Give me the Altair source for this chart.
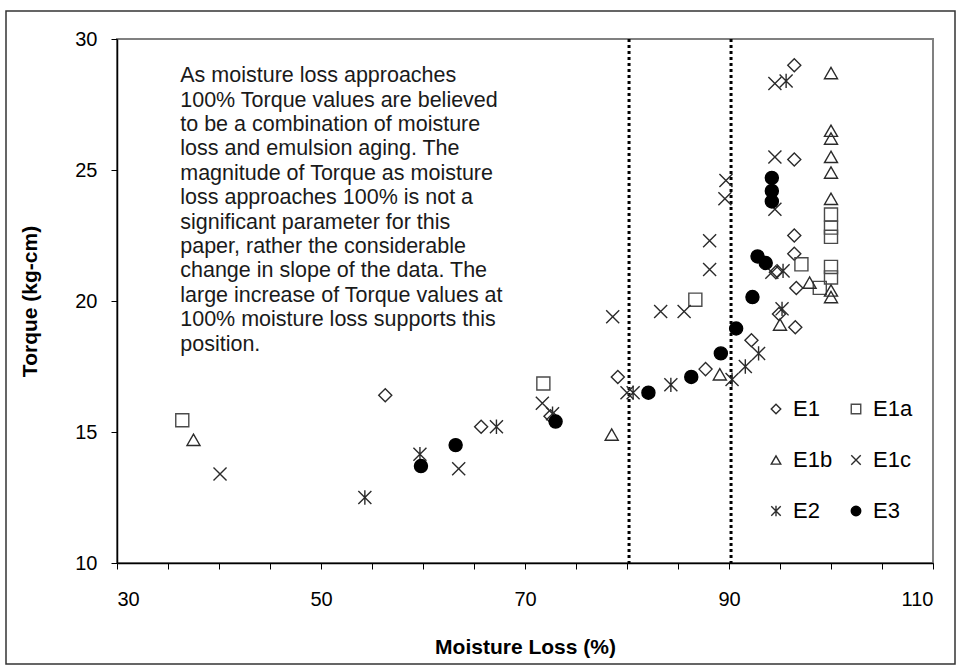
import altair as alt
import pandas as pd

# Torque vs. moisture loss for each emulsion series
E1_x = [56.3, 65.7, 72.5, 79.1, 87.7, 92.2, 94.6, 94.9, 96.4, 96.4, 96.4, 96.4, 96.6, 96.5]
E1_y = [16.4, 15.2, 15.6, 17.1, 17.4, 18.5, 21.1, 19.5, 29.0, 25.4, 22.5, 21.8, 20.5, 19.0]

E1a_x = [36.4, 71.8, 86.7, 97.1, 98.9, 100, 100, 100, 100, 100]
E1a_y = [15.45, 16.85, 20.05, 21.4, 20.5, 23.3, 22.8, 22.45, 21.3, 20.9]

E1b_x = [37.5, 78.5, 89.1, 95.0, 97.9, 100, 100, 100, 100, 100, 100, 100, 100]
E1b_y = [14.7, 14.9, 17.2, 19.1, 20.7, 28.7, 26.5, 26.2, 25.5, 24.9, 23.9, 20.4, 20.15]

E1c_x = [40.1, 63.5, 71.7, 78.6, 80.0, 83.3, 85.6, 88.1, 88.1, 89.7, 89.6, 94.5, 94.5, 94.5, 94.2]
E1c_y = [13.4, 13.6, 16.1, 19.4, 16.5, 19.6, 19.6, 22.3, 21.2, 24.6, 23.9, 28.3, 25.5, 23.5, 21.1]

E2_x = [54.3, 59.7, 67.2, 72.7, 80.6, 84.3, 90.3, 91.6, 92.9, 95.2, 95.3, 95.6]
E2_y = [12.5, 14.15, 15.2, 15.7, 16.5, 16.8, 17.0, 17.5, 18.0, 19.7, 21.15, 28.4]

E3_x = [59.8, 63.2, 73.0, 82.1, 86.3, 89.2, 90.7, 92.3, 92.8, 93.6, 94.2, 94.2, 94.2]
E3_y = [13.7, 14.5, 15.4, 16.5, 17.1, 18.0, 18.95, 20.15, 21.7, 21.45, 24.7, 24.2, 23.8]

series_names = ["E1", "E1a", "E1b", "E1c", "E2", "E3"]
series_x = [E1_x, E1a_x, E1b_x, E1c_x, E2_x, E3_x]
series_y = [E1_y, E1a_y, E1b_y, E1c_y, E2_y, E3_y]

# Marker styles per series
shapes = [
    "diamond",
    "square",
    "triangle-up",
    "M-1,-1L1,1M-1,1L1,-1",
    "M-1,-1L1,1M-1,1L1,-1M0,-1.1L0,1.1",
    "circle",
]
fills = ["transparent", "transparent", "transparent", "transparent", "transparent", "#000000"]
strokes = ["#2b2b2b", "#4a4a4a", "#2b2b2b", "#2b2b2b", "#2b2b2b", "#000000"]

# Threshold lines and explanatory note
threshold_x = [80.2, 90.2]
note_lines = [
    "As moisture loss approaches",
    "100% Torque values are believed",
    "to be a combination of moisture",
    "loss and emulsion aging.  The",
    "magnitude of Torque as moisture",
    "loss approaches 100% is not a",
    "significant parameter for this",
    "paper, rather the considerable",
    "change in slope of the data.  The",
    "large increase of Torque values at",
    "100% moisture loss supports this",
    "position.",
]
note_x = [36.2]
note_y = [29.0]

rows = []
for name, xs, ys in zip(series_names, series_x, series_y):
    for xv, yv in zip(xs, ys):
        rows.append({"series": name, "moisture": xv, "torque": yv})
df = pd.DataFrame(rows)

FONT = "Liberation Sans"

x_scale = alt.Scale(domain=[30, 110], nice=False, zero=False)
y_scale = alt.Scale(domain=[10, 30], nice=False, zero=False)

legend = alt.Legend(
    title=None,
    orient="none",
    direction="horizontal",
    legendX=648,
    legendY=359,
    columns=2,
    columnPadding=12,
    rowPadding=29,
    labelFont=FONT,
    labelFontSize=22,
    labelColor="#000000",
    labelOffset=6,
    symbolSize=90,
    symbolStrokeWidth=1.4,
    padding=0,
)

points = alt.Chart(df).mark_point(size=170, strokeWidth=1.4, opacity=1).encode(
    x=alt.X(
        "moisture:Q",
        scale=x_scale,
        title="Moisture Loss (%)",
        axis=alt.Axis(
            values=list(range(30, 111, 5)),
            labelExpr="datum.value % 20 == 10 ? datum.label : ''",
            tickSize=6,
            labelPadding=20,
            titlePadding=27,
        ),
    ),
    y=alt.Y(
        "torque:Q",
        scale=y_scale,
        title="Torque (kg-cm)",
        axis=alt.Axis(values=[10, 15, 20, 25, 30], tickSize=6, labelPadding=14, titlePadding=34),
    ),
    shape=alt.Shape("series:N", scale=alt.Scale(domain=series_names, range=shapes), legend=legend),
    fill=alt.Fill("series:N", scale=alt.Scale(domain=series_names, range=fills), legend=legend),
    stroke=alt.Stroke("series:N", scale=alt.Scale(domain=series_names, range=strokes), legend=legend),
)

thresholds = alt.Chart(pd.DataFrame({"moisture": threshold_x})).mark_rule(
    color="#000000", strokeWidth=3, strokeDash=[3, 3]
).encode(x=alt.X("moisture:Q", scale=x_scale))

note = alt.Chart(pd.DataFrame({"moisture": note_x, "torque": note_y})).mark_text(
    text=note_lines,
    align="left",
    baseline="top",
    font=FONT,
    fontSize=21.5,
    lineHeight=24.4,
    color="#1a1a1a",
).encode(
    x=alt.X("moisture:Q", scale=x_scale),
    y=alt.Y("torque:Q", scale=y_scale),
)

# Outer frame around the whole figure
frame = alt.Chart(pd.DataFrame({"k": [0]})).mark_rect(
    fillOpacity=0, stroke="#333333", strokeWidth=1.5
).encode(
    x=alt.value(-111), x2=alt.value(838), y=alt.value(-28), y2=alt.value(625)
)

chart = alt.layer(frame, thresholds, note, points).properties(
    width=816,
    height=524,
    autosize=alt.AutoSizeParams(type="none"),
    padding={"left": 117, "top": 39, "right": 28, "bottom": 105},
).configure_view(
    stroke="#808080", strokeWidth=2
).configure_axis(
    labelFont=FONT,
    labelFontSize=20,
    labelColor="#000000",
    titleFont=FONT,
    titleFontSize=21,
    titleFontWeight="bold",
    titleColor="#000000",
    domainColor="#000000",
    domainWidth=1.5,
    tickColor="#000000",
    grid=False,
)

chart.save("out.html", embed_options={"renderer": "svg", "actions": False})
